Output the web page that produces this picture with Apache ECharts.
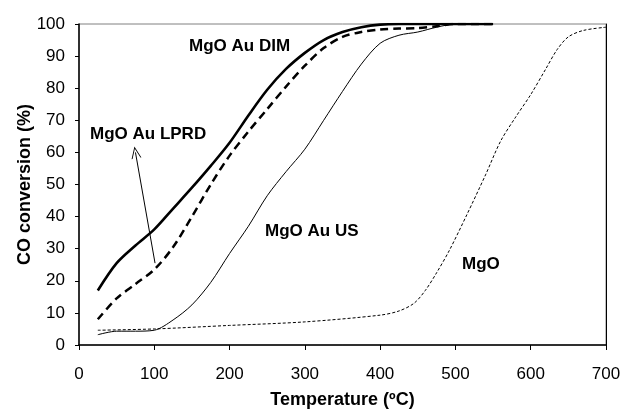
<!DOCTYPE html>
<html>
<head>
<meta charset="utf-8">
<script src="https://cdn.jsdelivr.net/npm/echarts@6/dist/echarts.min.js"></script>
<style>
  html, body { margin: 0; padding: 0; background: #fff; }
  #chart { width: 624px; height: 410px; }
</style>
</head>
<body>
<div id="chart"></div>
<script>
// temperatures (ºC) and CO conversion (%)
var dimTemp = [25, 50, 75, 100, 125, 150, 175, 200, 225, 250, 275, 300, 325, 350, 375, 400, 425, 450, 500, 550];
var dimConv = [17, 25.5, 31, 36, 42.5, 49, 55.8, 63, 71.5, 79.5, 86, 91, 95, 97.5, 99, 99.8, 100, 100, 100, 100];

var lprdTemp = [25, 50, 75, 100, 125, 150, 175, 200, 225, 250, 275, 300, 325, 350, 375, 400, 425, 450, 475, 500, 550];
var lprdConv = [8, 14.5, 19, 23.5, 30.5, 40, 50, 59, 66.5, 73.5, 80.5, 87, 92.5, 96, 97.5, 98.3, 98.6, 98.7, 99.3, 100, 100];

var usTemp = [25, 50, 75, 100, 125, 150, 175, 200, 225, 250, 275, 300, 325, 350, 375, 400, 425, 450, 475, 500, 550];
var usConv = [3.2, 4.3, 4.3, 4.6, 7.8, 12.5, 19.5, 28.5, 37, 46.5, 54, 61, 70, 79, 87.5, 94, 96.5, 97.5, 99, 100, 100];

var mgoTemp = [25, 100, 200, 300, 400, 425, 445, 460, 475, 492, 515, 540, 560, 580, 600, 620, 635, 650, 670, 700];
var mgoConv = [4.6, 5, 6.1, 7.2, 9.3, 10.6, 13, 17, 22.5, 29.5, 40.5, 53, 63.5, 71, 78, 86, 92, 96, 98, 99];

// arrow from the LPRD curve up to its label
var arrowFrom = [101, 25.5];
var arrowTo = [75, 60];

function pairs(xs, ys) {
  return xs.map(function (x, i) { return [x, ys[i]]; });
}

var font = "Liberation Sans, Arial, sans-serif";
var chart = echarts.init(document.getElementById("chart"));

var option = {
  animation: false,
  grid: {
    left: 79, top: 24, right: 18, bottom: 65,
    outerBoundsMode: "none",
    show: true, borderColor: "#808080", borderWidth: 1
  },
  xAxis: {
    type: "value",
    min: 0,
    max: 700,
    interval: 100,
    name: "Temperature (ºC)",
    nameLocation: "middle",
    nameGap: 46,
    nameMoveOverlap: false,
    nameTextStyle: { fontFamily: font, fontSize: 18, fontWeight: "bold", color: "#000" },
    axisLine: { lineStyle: { color: "#000", width: 1.5 } },
    axisTick: { length: 5, lineStyle: { color: "#000" } },
    axisLabel: { fontFamily: font, fontSize: 17, color: "#000", margin: 21 },
    splitLine: { show: false }
  },
  yAxis: [
    {
      type: "value",
      min: 0,
      max: 100,
      interval: 10,
      name: "CO conversion (%)",
      nameLocation: "middle",
      nameGap: 45,
      nameMoveOverlap: false,
      nameTextStyle: { fontFamily: font, fontSize: 18, fontWeight: "bold", color: "#000" },
      axisLine: { show: true, lineStyle: { color: "#000", width: 1.5 } },
      axisTick: { show: true, length: 4, lineStyle: { color: "#000" } },
      axisLabel: { fontFamily: font, fontSize: 17, color: "#000", margin: 14 },
      splitLine: { show: false }
    },
    {
      type: "value",
      position: "right",
      min: 0,
      max: 100,
      axisLine: { show: true, lineStyle: { color: "#000", width: 1 } },
      axisTick: { show: false },
      axisLabel: { show: false },
      splitLine: { show: false }
    }
  ],
  series: [
    {
      name: "MgO",
      type: "line",
      data: pairs(mgoTemp, mgoConv),
      smooth: 0.3,
      symbol: "none",
      lineStyle: { color: "#000", width: 1, type: [3, 2] },
      z: 2
    },
    {
      name: "MgO Au US",
      type: "line",
      data: pairs(usTemp, usConv),
      smooth: 0.3,
      symbol: "none",
      lineStyle: { color: "#000", width: 1 },
      z: 3
    },
    {
      name: "MgO Au LPRD",
      type: "line",
      data: pairs(lprdTemp, lprdConv),
      smooth: 0.3,
      symbol: "none",
      lineStyle: { color: "#000", width: 2.5, type: [8, 5] },
      markLine: {
        silent: true,
        symbol: ["none", "path://M0,0 L-6,13 L-4.8,13 L0,2.6 L4.8,13 L6,13 Z"],
        symbolSize: [10, 12],
        label: { show: false },
        lineStyle: { color: "#000", width: 1, type: "solid" },
        data: [[{ coord: arrowFrom }, { coord: arrowTo }]]
      },
      z: 4
    },
    {
      name: "MgO Au DIM",
      type: "line",
      data: pairs(dimTemp, dimConv),
      smooth: 0.3,
      symbol: "none",
      lineStyle: { color: "#000", width: 2.6 },
      z: 5
    }
  ],
  graphic: [
    { type: "text", left: 189, top: 38, style: { text: "MgO Au DIM", font: "bold 17px " + font, fill: "#000" } },
    { type: "text", left: 90, top: 126, style: { text: "MgO Au LPRD", font: "bold 17px " + font, fill: "#000" } },
    { type: "text", left: 265, top: 223, style: { text: "MgO Au US", font: "bold 17px " + font, fill: "#000" } },
    { type: "text", left: 462, top: 256, style: { text: "MgO", font: "bold 17px " + font, fill: "#000" } }
  ]
};

chart.setOption(option);
</script>
</body>
</html>
